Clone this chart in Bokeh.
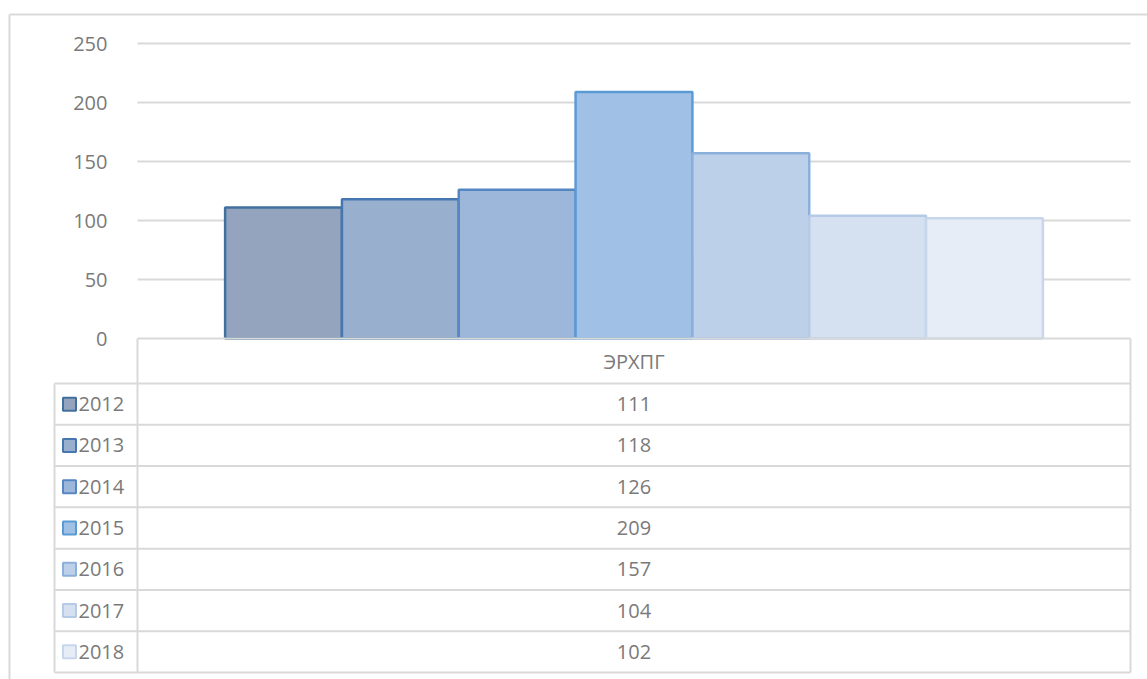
from bokeh.plotting import figure
from bokeh.models import Range1d, FixedTicker, ColumnDataSource
from bokeh.core.properties import value
from bokeh.embed import file_html
from bokeh.resources import INLINE

# ---- data ----
category = "ЭРХПГ"
years = ["2012", "2013", "2014", "2015", "2016", "2017", "2018"]
values = [111, 118, 126, 209, 157, 104, 102]
y_ticks = [0, 50, 100, 150, 200, 250]

# ---- styles ----
fill_colors = ["#94a4be", "#98afce", "#9db7da", "#a1c0e6", "#bcd0ea", "#d5e1f1", "#e7edf7"]
line_colors = ["#41709e", "#4677b0", "#5787c2", "#5b9bd5", "#8cb0dc", "#b4cae6", "#c8d6eb"]
TEXT = "#7a7a7a"
GRID = "#d9d9d9"
FONT = value("Open Sans")

# ---- layout (page pixel geometry) ----
W, H = 1147, 679
FX0, FY0 = 0, 0
CAT_L, CAT_R = 137, 1130
ZERO_Y, TOP_Y = 338, 43
ppu = (ZERO_Y - TOP_Y) / 250.0
cat_w = float(CAT_R - CAT_L)
LEG_L = 54
HEAD_B = 383
TABLE_B = 672
n = len(values)
ROW_H = (TABLE_B - HEAD_B) / float(n)

x_range = Range1d((FX0 - CAT_L) / cat_w, (FX0 + W - CAT_L) / cat_w)
y_range = Range1d((ZERO_Y - (FY0 + H)) / ppu, (ZERO_Y - FY0) / ppu)

p = figure(width=W, height=H, x_range=x_range, y_range=y_range,
           output_backend="svg", toolbar_location=None,
           x_axis_location=None, y_axis_location="left",
           min_border_left=0, min_border_right=0, min_border_top=0, min_border_bottom=0,
           outline_line_color=None, background_fill_color="white", border_fill_color="white")
p.extra_x_ranges = {"px": Range1d(FX0, FX0 + W)}
p.extra_y_ranges = {"py": Range1d(FY0 + H, FY0)}
p.grid.visible = False

# y axis
ax = p.yaxis[0]
ax.fixed_location = 0
ax.ticker = FixedTicker(ticks=y_ticks)
ax.axis_line_color = None
ax.major_tick_line_color = None
ax.minor_tick_line_color = None
ax.major_label_standoff = 24
ax.major_label_text_font = "Open Sans"
ax.major_label_text_font_size = "20px"
ax.major_label_text_color = TEXT

# outer chart border (top and left)
p.segment(x0=[9, 9], y0=[14, 14], x1=[FX0 + W, 9], y1=[14, FY0 + H],
          x_range_name="px", y_range_name="py", line_color=GRID, line_width=2)

# gridlines
gl = y_ticks[1:]
p.segment(x0=[0] * len(gl), x1=[1] * len(gl), y0=gl, y1=gl, line_color=GRID, line_width=2)

# bars
bw = 1.0 / (n + 1.5)
centers = [0.5 + (i - (n - 1) / 2.0) * bw for i in range(n)]
src = ColumnDataSource(dict(x=centers, top=values, fill=fill_colors, line=line_colors, year=years))
p.vbar(x="x", top="top", bottom=0, width=bw, source=src,
       fill_color="fill", line_color="line", line_width=2.5)

# data table
row_tops = [HEAD_B + ROW_H * i for i in range(n + 1)]
row_centers = [HEAD_B + ROW_H * (i + 0.5) for i in range(n)]
hx0 = [CAT_L] + [LEG_L] * (n + 1)
hx1 = [CAT_R] * (n + 2)
hy = [ZERO_Y] + row_tops
p.segment(x0=hx0, x1=hx1, y0=hy, y1=hy, x_range_name="px", y_range_name="py",
          line_color=GRID, line_width=2)
vx = [LEG_L, CAT_L, CAT_R]
vy0 = [HEAD_B, ZERO_Y, ZERO_Y]
vy1 = [row_tops[-1]] * 3
p.segment(x0=vx, x1=vx, y0=vy0, y1=vy1, x_range_name="px", y_range_name="py",
          line_color=GRID, line_width=2)

# header
p.text(x=[0.5], y=[(ZERO_Y + HEAD_B) / 2.0], text=[category], y_range_name="py",
       text_font=FONT, text_font_size="20px", text_color=TEXT,
       text_align="center", text_baseline="middle")

# values
tsrc = ColumnDataSource(dict(x=[0.5] * n, y=row_centers, txt=[str(v) for v in values],
                             year=years, fill=fill_colors, line=line_colors,
                             sx=[69] * n, lx=[78] * n))
p.text(x="x", y="y", text="txt", source=tsrc, y_range_name="py",
       text_font=FONT, text_font_size="20px", text_color=TEXT,
       text_align="center", text_baseline="middle")

# legend keys
p.rect(x="sx", y="y", width=13, height=13, source=tsrc, x_range_name="px", y_range_name="py",
       fill_color="fill", line_color="line", line_width=2)
p.text(x="lx", y="y", text="year", source=tsrc, x_range_name="px", y_range_name="py",
       text_font=FONT, text_font_size="20px", text_color=TEXT,
       text_align="left", text_baseline="middle")

open("out.html", "w").write(file_html(p, INLINE))
